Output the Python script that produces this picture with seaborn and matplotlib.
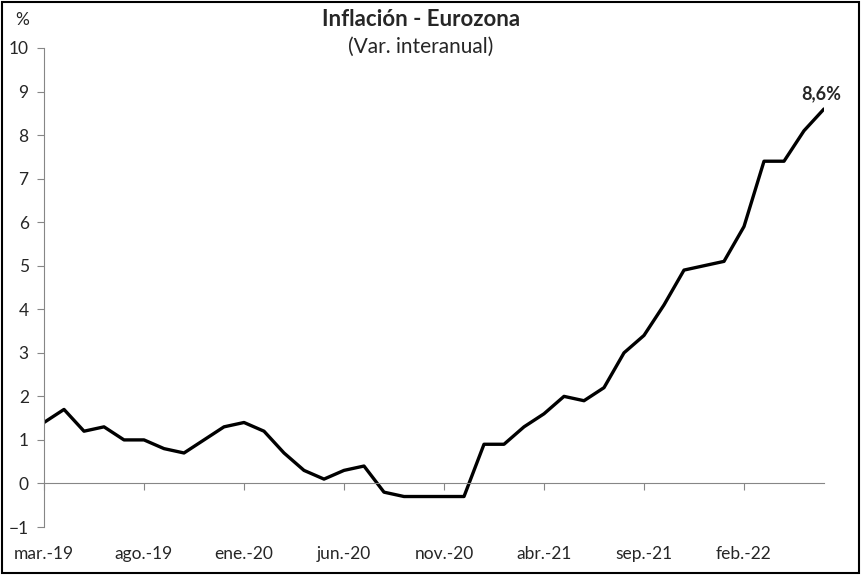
import seaborn as sns
import pandas as pd
import matplotlib.pyplot as plt

months = ['mar.-19', 'abr.-19', 'may.-19', 'jun.-19', 'jul.-19', 'ago.-19', 'sep.-19', 'oct.-19', 'nov.-19', 'dic.-19',
          'ene.-20', 'feb.-20', 'mar.-20', 'abr.-20', 'may.-20', 'jun.-20', 'jul.-20', 'ago.-20', 'sep.-20', 'oct.-20',
          'nov.-20', 'dic.-20', 'ene.-21', 'feb.-21', 'mar.-21', 'abr.-21', 'may.-21', 'jun.-21', 'jul.-21', 'ago.-21',
          'sep.-21', 'oct.-21', 'nov.-21', 'dic.-21', 'ene.-22', 'feb.-22', 'mar.-22', 'abr.-22', 'may.-22', 'jun.-22']
inflation = [1.4, 1.7, 1.2, 1.3, 1.0, 1.0, 0.8, 0.7, 1.0, 1.3,
             1.4, 1.2, 0.7, 0.3, 0.1, 0.3, 0.4, -0.2, -0.3, -0.3,
             -0.3, -0.3, 0.9, 0.9, 1.3, 1.6, 2.0, 1.9, 2.2, 3.0,
             3.4, 4.1, 4.9, 5.0, 5.1, 5.9, 7.4, 7.4, 8.1, 8.6]

df = pd.DataFrame({'pos': range(len(months)), 'mes': months, 'val': inflation})

sns.set_style('white')
plt.rcParams['font.family'] = ['Lato', 'DejaVu Sans']

fig = plt.figure(figsize=(8.62, 5.75), dpi=100)
ax = fig.add_axes([44 / 862, 1 - 527 / 575, 780 / 862, 479 / 575])
sns.lineplot(data=df, x='pos', y='val', color='black', linewidth=2.4, ax=ax)

ax.set_xlim(0, len(months) - 1)
ax.set_ylim(-1, 10)
ax.set_yticks(range(-1, 11))
tick_pos = list(range(0, len(months), 5))
ax.set_xticks(tick_pos)
ax.set_xticklabels([months[i] for i in tick_pos])
ax.set_xlabel('')
ax.set_ylabel('')

gray = '#868686'
ax.spines['top'].set_visible(False)
ax.spines['right'].set_visible(False)
ax.spines['bottom'].set_position(('data', 0))
ax.spines['bottom'].set_color(gray)
ax.spines['left'].set_color(gray)
ax.tick_params(axis='x', direction='out', length=5, color=gray, pad=40, labelsize=12.5, bottom=True)
ax.tick_params(axis='y', direction='out', length=5, color=gray, pad=6, labelsize=12.5, left=True)

last = len(inflation) - 1
ax.annotate('8,6%', xy=(last, inflation[last]), xytext=(-2, 5), textcoords='offset points',
            ha='center', va='bottom', fontsize=13, fontweight='bold')

fig.text(421 / 862, 1 - 20 / 575, 'Inflación - Eurozona', ha='center', va='center', fontsize=16, fontweight='bold')
fig.text(421 / 862, 1 - 47 / 575, '(Var. interanual)', ha='center', va='center', fontsize=15)
fig.text(22 / 862, 1 - 20 / 575, '%', ha='center', va='center', fontsize=12.5)

fig.patches.append(plt.Rectangle((0.002, 0.003), 0.994, 0.994, transform=fig.transFigure,
                                 fill=False, edgecolor='black', linewidth=1.5))

plt.savefig('out.png', dpi=100)
